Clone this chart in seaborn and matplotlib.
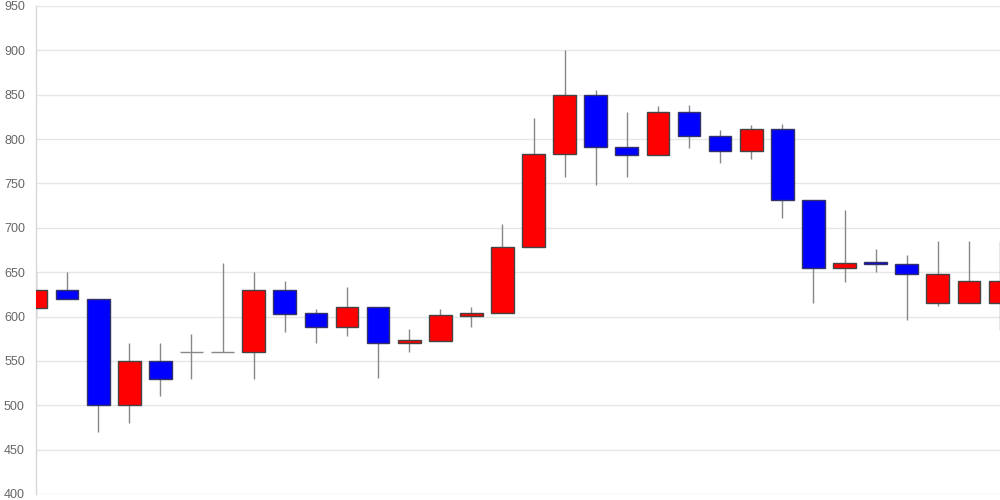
import matplotlib
matplotlib.use("Agg")
import matplotlib.pyplot as plt
import seaborn as sns
import numpy as np

# daily OHLC values (red = up, blue = down)
opens = [610, 630, 620, 500, 550, 560, 560, 560, 630, 604, 588, 611, 570, 573, 601, 604,
         678, 783, 850, 791, 782, 830, 804, 787, 811, 731, 655, 661, 659, 615, 615, 615]
closes = [630, 620, 500, 550, 530, 560, 560, 630, 603, 588, 611, 570, 574, 602, 604, 678,
          783, 850, 791, 782, 830, 804, 787, 811, 731, 655, 660, 659, 648, 648, 640, 640]
highs = [650, 650, 620, 570, 570, 580, 660, 650, 640, 609, 633, 611, 586, 608, 611, 704,
         824, 900, 855, 830, 837, 838, 810, 816, 817, 731, 720, 676, 669, 685, 685, 685]
lows = [600, 620, 470, 480, 510, 530, 560, 530, 583, 570, 578, 531, 560, 573, 588, 604,
        678, 757, 748, 757, 782, 790, 773, 777, 711, 615, 639, 650, 596, 612, 615, 585]
yticks = [400, 450, 500, 550, 600, 650, 700, 750, 800, 850, 900, 950]

sns.set_style("white")
plt.rcParams['font.family'] = ['Liberation Sans', 'DejaVu Sans']

fig = plt.figure(figsize=(10, 5), dpi=100)
ax = fig.add_axes([0.036, 0.012, 0.964, 0.976])

x = np.arange(len(opens))
o = np.array(opens)
c = np.array(closes)

face = []
edge = []
for op, cl in zip(opens, closes):
    if cl > op:
        face.append('#ff0000')
        edge.append('#444444')
    elif cl < op:
        face.append('#0000ff')
        edge.append('#333366')
    else:
        face.append('#888888')
        edge.append('#888888')

# wicks
ax.vlines(x, lows, highs, color='#888888', linewidth=1, zorder=2)
# bodies
ax.bar(x, np.abs(c - o), bottom=np.minimum(o, c), width=0.73,
       color=face, edgecolor=edge, linewidth=1, zorder=3)

ax.set_xlim(0, len(opens) - 1)
ax.set_ylim(400, 950)
ax.set_yticks(yticks)
ax.set_xticks([])
ax.yaxis.grid(True, color='#e6e6e6', linewidth=1)
ax.set_axisbelow(True)
ax.tick_params(axis='y', length=0, labelsize=9, labelcolor='#666666', pad=8)
for s in ['top', 'right', 'bottom']:
    ax.spines[s].set_visible(False)
ax.spines['left'].set_color('#d8d8d8')
ax.spines['left'].set_linewidth(1)

fig.savefig('out.png', dpi=100)
